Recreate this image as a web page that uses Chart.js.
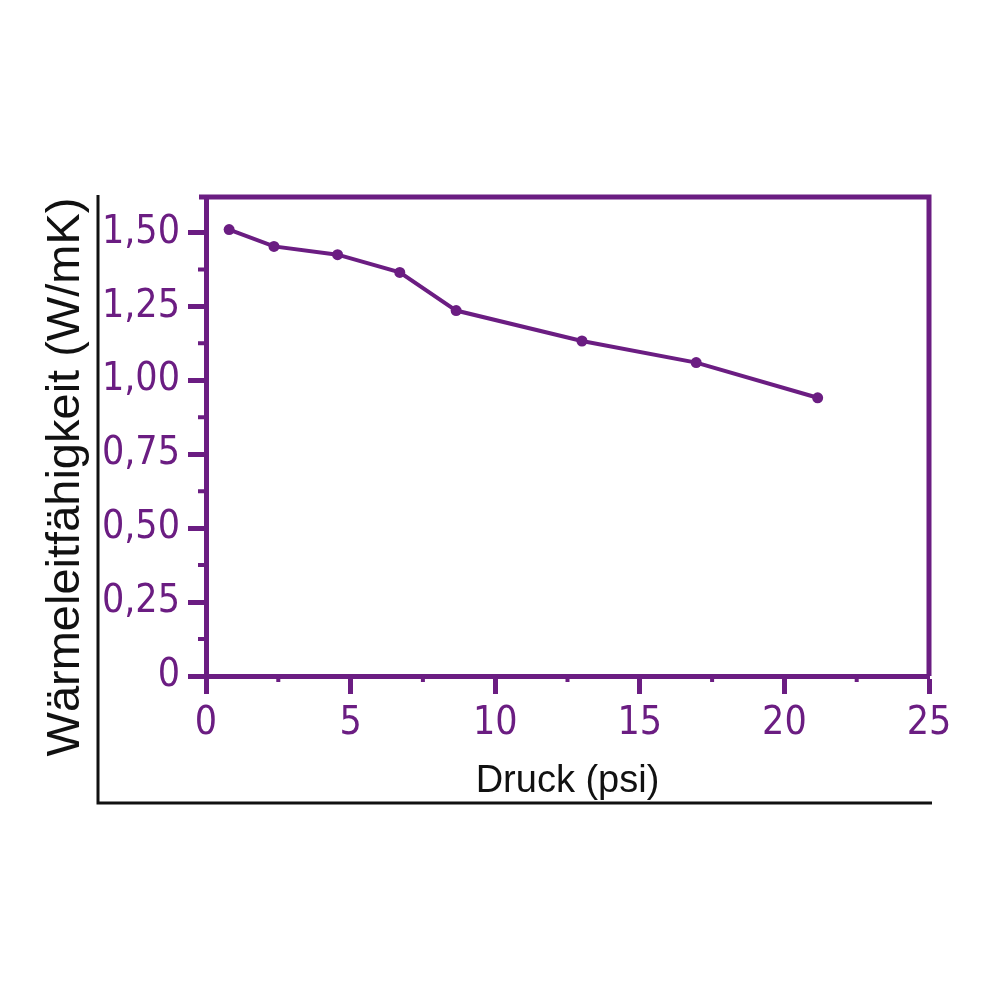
<!DOCTYPE html>
<html>
<head>
<meta charset="utf-8">
<script src="https://cdn.jsdelivr.net/npm/chart.js@4"></script>
<style>
  html, body { margin: 0; padding: 0; background: #fff; }
  #chart { display: block; }
</style>
</head>
<body>
<canvas id="chart" width="1000" height="1000"></canvas>
<script>
// values
const pressure = [0.8, 2.35, 4.55, 6.7, 8.65, 13.0, 16.95, 21.15];
const conductivity = [1.51, 1.453, 1.425, 1.365, 1.236, 1.133, 1.06, 0.941];
const xTitle = "Druck (psi)";
const yTitle = "Wärmeleitfähigkeit (W/mK)";

const purple = "#6b1d82";
const tickFont = '"Liberation Sans Narrow", "DejaVu Sans Condensed", "Liberation Sans", sans-serif';
const textFont = '"Liberation Sans", Arial, sans-serif';

// frame, minor ticks, outer black lines, y title
const framePlugin = {
  id: "frame",
  afterDraw(chart) {
    const { ctx, chartArea: a, scales } = chart;
    ctx.save();
    ctx.strokeStyle = purple;
    ctx.lineWidth = 5;
    ctx.beginPath();
    ctx.moveTo(a.left - 7, a.top);
    ctx.lineTo(a.right, a.top);
    ctx.lineTo(a.right, a.bottom);
    ctx.stroke();

    ctx.lineWidth = 4;
    ctx.beginPath();
    for (let v = 0.125; v < scales.y.max; v += 0.25) {
      const py = scales.y.getPixelForValue(v);
      ctx.moveTo(a.left, py);
      ctx.lineTo(a.left - 8, py);
    }
    for (let v = 2.5; v < scales.x.max; v += 5) {
      const px = scales.x.getPixelForValue(v);
      ctx.moveTo(px, a.bottom);
      ctx.lineTo(px, a.bottom + 6);
    }
    ctx.stroke();

    ctx.strokeStyle = "#111";
    ctx.lineWidth = 3;
    ctx.beginPath();
    ctx.moveTo(98, a.top - 2);
    ctx.lineTo(98, 803);
    ctx.lineTo(a.right + 3, 803);
    ctx.stroke();

    ctx.fillStyle = "#111";
    ctx.font = "47px " + textFont;
    ctx.textAlign = "center";
    ctx.textBaseline = "middle";
    ctx.translate(66, 477);
    ctx.rotate(-Math.PI / 2);
    ctx.fillText(yTitle, 0, 0);
    ctx.restore();
  },
};

new Chart(document.getElementById("chart"), {
  type: "scatter",
  data: {
    datasets: [
      {
        data: pressure.map((x, i) => ({ x, y: conductivity[i] })),
        showLine: true,
        borderColor: purple,
        borderWidth: 4,
        pointRadius: 5.5,
        pointBackgroundColor: purple,
        pointBorderColor: purple,
        pointBorderWidth: 0,
      },
    ],
  },
  options: {
    responsive: false,
    devicePixelRatio: 1,
    animation: false,
    layout: { padding: { top: 197, right: 71, left: 0, bottom: 0 } },
    plugins: { legend: { display: false }, tooltip: { enabled: false } },
    scales: {
      x: {
        type: "linear",
        min: 0,
        max: 25,
        afterFit: (s) => { s.height = 324; },
        ticks: {
          stepSize: 5,
          color: purple,
          padding: 6,
          maxRotation: 0,
          font: { family: tickFont, size: 39 },
        },
        grid: {
          drawOnChartArea: false,
          drawTicks: true,
          tickLength: 18,
          tickWidth: 5,
          tickColor: purple,
        },
        border: { color: purple, width: 5 },
        title: {
          display: true,
          text: xTitle,
          color: "#111",
          font: { family: textFont, size: 38 },
          padding: { top: 0, bottom: 196 },
        },
      },
      y: {
        min: 0,
        max: 1.62,
        afterFit: (s) => { s.width = 206; },
        ticks: {
          stepSize: 0.25,
          includeBounds: false,
          color: purple,
          padding: 8,
          font: { family: tickFont, size: 39 },
          callback: (v) => (v === 0 ? "0" : v.toFixed(2).replace(".", ",")),
        },
        grid: {
          drawOnChartArea: false,
          drawTicks: true,
          tickLength: 18,
          tickWidth: 5,
          tickColor: purple,
        },
        border: { color: purple, width: 5 },
      },
    },
  },
  plugins: [framePlugin],
});
</script>
</body>
</html>
